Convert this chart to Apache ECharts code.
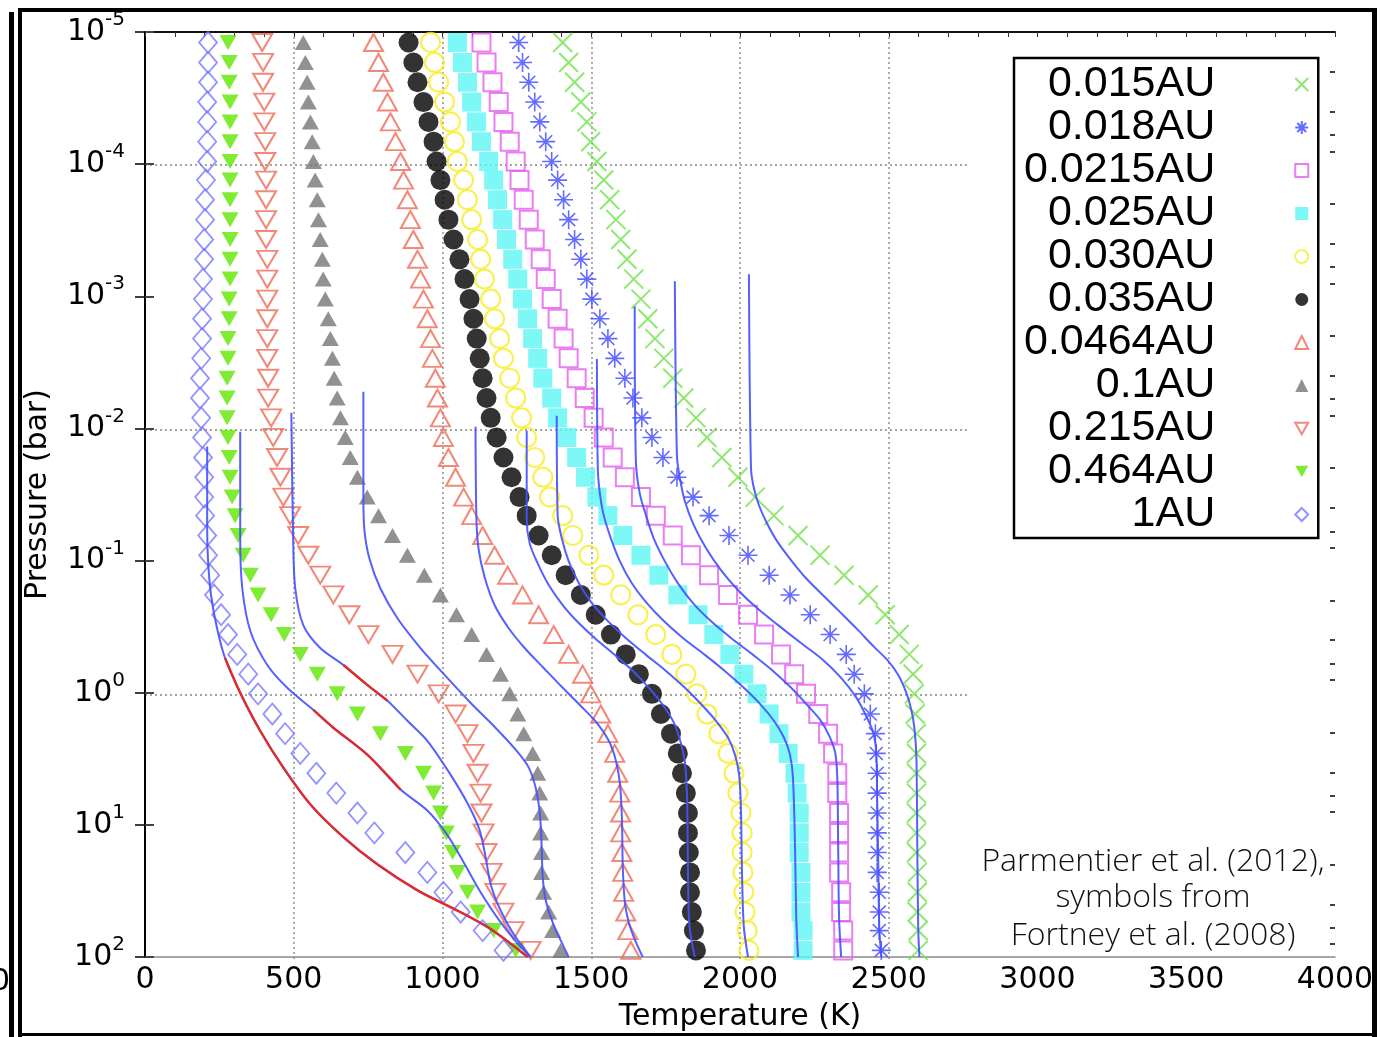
<!DOCTYPE html>
<html>
<head>
<meta charset="utf-8">
<title>Pressure–temperature profiles</title>
<script src="https://cdn.jsdelivr.net/npm/echarts@6/dist/echarts.min.js"></script>
<style>
  html, body { margin: 0; padding: 0; background: #fff; }
  #chart { width: 1380px; height: 1037px; }
</style>
</head>
<body>
<div id="chart"></div>
<script>
// ---------------------------------------------------------------
// Data: Fortney et al. (2008) model levels (symbols) and
// Parmentier et al. (2012) analytic profiles (curves).
// Temperatures in K, pressures in bar.
// ---------------------------------------------------------------

// shared pressure levels of the symbol profiles (bar)
const fortneyPressure = [1.20e-5, 1.70e-5, 2.40e-5, 3.39e-5, 4.79e-5, 6.76e-5, 9.55e-5, 1.32e-4, 1.86e-4, 2.63e-4,
  3.72e-4, 5.25e-4, 7.41e-4, 1.05e-3, 1.48e-3, 2.09e-3, 2.95e-3, 4.17e-3, 5.89e-3, 8.32e-3,
  1.17e-2, 1.66e-2, 2.34e-2, 3.31e-2, 4.57e-2, 6.46e-2, 9.12e-2, 0.129, 0.182, 0.257,
  0.363, 0.513, 0.724, 1.02, 1.45, 2.04, 2.88, 4.07, 5.75, 8.13,
  11.5, 16.2, 22.9, 32.4, 45.7, 63.1, 89.1];

const distances = ['0.015AU', '0.018AU', '0.0215AU', '0.025AU', '0.030AU', '0.035AU',
  '0.0464AU', '0.1AU', '0.215AU', '0.464AU', '1AU'];

// symbol temperatures (K) at fortneyPressure
const fortney_0015 = [1404,1424,1444,1465,1485,1498,1519,1542,1562,1583,1599,1620,1643,1667,1690,1714,1744,1774,1811,1852,1889,1939,1993,2051,2114,2195,2269,2350,2431,2488,2535,2569,2582,2586,2589,2593,2593,2593,2593,2593,2593,2593,2596,2596,2596,2599,2599];
const fortney_0018 = [1256,1269,1290,1310,1327,1347,1367,1387,1407,1424,1444,1465,1485,1502,1529,1556,1579,1613,1640,1670,1704,1741,1788,1842,1896,1963,2027,2098,2168,2236,2303,2357,2384,2418,2438,2455,2458,2461,2461,2461,2461,2461,2461,2468,2468,2468,2475];
const fortney_00215 = [1131,1148,1168,1189,1205,1226,1246,1259,1273,1290,1310,1330,1347,1367,1387,1407,1424,1451,1478,1508,1542,1572,1613,1667,1717,1774,1835,1896,1960,2027,2081,2138,2182,2222,2263,2296,2313,2327,2327,2333,2333,2333,2333,2340,2340,2347,2347];
const fortney_0025 = [1050,1067,1084,1098,1114,1131,1155,1172,1185,1202,1215,1236,1253,1269,1286,1303,1320,1337,1367,1387,1418,1451,1481,1519,1556,1606,1667,1727,1791,1859,1912,1966,2013,2057,2098,2131,2162,2185,2192,2199,2199,2199,2205,2205,2205,2212,2212];
const fortney_0030 = [960,973,987,1007,1027,1040,1050,1071,1084,1098,1118,1128,1141,1162,1175,1192,1205,1226,1246,1266,1283,1310,1337,1360,1404,1438,1492,1542,1599,1657,1717,1771,1818,1855,1889,1929,1960,1980,1993,2003,2007,2007,2010,2013,2017,2024,2030];
const fortney_0035 = [886,902,916,936,953,970,980,993,1007,1020,1037,1057,1074,1091,1104,1115,1125,1135,1148,1162,1182,1205,1232,1259,1283,1323,1367,1414,1465,1515,1566,1616,1660,1704,1734,1768,1791,1805,1818,1825,1825,1828,1832,1832,1838,1845,1852];
const fortney_00464 = [768,785,801,815,825,842,859,869,882,892,902,916,926,936,949,960,966,976,983,993,1003,1020,1044,1071,1098,1135,1175,1219,1269,1323,1374,1424,1471,1498,1532,1556,1579,1589,1596,1599,1599,1603,1606,1609,1616,1623,1633];
const fortney_01 = [532,539,545,549,556,562,566,572,579,583,589,596,599,606,616,623,630,636,646,657,673,690,714,747,785,832,882,939,993,1047,1098,1148,1195,1226,1253,1273,1303,1320,1327,1330,1330,1333,1333,1340,1357,1370,1397];
const fortney_0215 = [394,397,397,401,401,404,404,407,407,407,407,411,411,411,411,411,411,414,414,424,431,444,455,465,488,515,549,589,633,687,751,832,916,987,1044,1084,1104,1118,1128,1131,1138,1148,1165,1178,1205,1239,1296];
const fortney_0464 = [279,283,283,286,286,286,286,286,286,286,286,286,286,283,283,279,279,276,276,276,279,283,286,293,303,313,330,354,380,424,468,522,579,646,714,791,875,936,970,993,1013,1034,1050,1084,1118,1172,1246];
const fortney_1 = [212,212,212,209,209,209,209,205,202,202,199,199,195,195,192,192,189,185,185,189,192,195,199,199,202,209,212,219,232,256,279,310,347,380,428,471,522,576,643,714,771,875,949,1003,1061,1135,1205];

// analytic profiles: temperature (K) and pressure (bar) pairs
const parm_0015_T = [2030,2037,2047,2064,2091,2125,2172,2222,2279,2340,2397,2448,2495,2532,2559,2576,2586,2593,2596,2599,2603];
const parm_0015_P = [0.000681,0.0201,0.0285,0.0383,0.0524,0.0716,0.0995,0.136,0.183,0.250,0.336,0.444,0.565,0.733,1.00,1.35,1.84,3.10,14.8,59.4,100];
const parm_0018_T = [1781,1788,1798,1815,1845,1886,1936,1993,2057,2128,2205,2279,2340,2391,2424,2448,2458,2461,2465,2468,2475];
const parm_0018_P = [0.000769,0.0161,0.0239,0.0357,0.0542,0.0807,0.118,0.167,0.229,0.308,0.421,0.565,0.773,1.09,1.50,2.01,2.84,6.21,20.9,59.4,100];
const parm_00215_T = [1646,1650,1663,1684,1710,1747,1791,1842,1902,1970,2044,2111,2172,2226,2269,2300,2320,2327,2330,2333,2340];
const parm_00215_P = [0.00119,0.0178,0.031,0.0455,0.0679,0.101,0.148,0.210,0.287,0.385,0.517,0.684,0.918,1.24,1.60,2.12,2.84,4.39,14.8,49.9,100];
const parm_0025_T = [1519,1522,1529,1542,1566,1596,1636,1687,1744,1808,1882,1949,2013,2071,2114,2148,2168,2178,2185,2189,2195];
const parm_0025_P = [0.00298,0.0201,0.031,0.0455,0.0679,0.101,0.148,0.210,0.287,0.385,0.517,0.684,0.918,1.24,1.63,2.19,2.94,4.39,14.8,49.9,100];
const parm_0030_T = [1384,1387,1401,1424,1458,1502,1556,1616,1684,1751,1815,1872,1919,1960,1983,1997,2003,2007,2013,2027];
const parm_0030_P = [0.00802,0.0455,0.0679,0.101,0.148,0.210,0.287,0.385,0.517,0.684,0.918,1.24,1.63,2.19,2.94,4.17,7.40,24.9,59.4,100];
const parm_0035_T = [1283,1283,1293,1320,1357,1404,1458,1519,1579,1640,1694,1741,1778,1801,1815,1822,1825,1828,1835,1848];
const parm_0035_P = [0.0104,0.048,0.0741,0.105,0.153,0.217,0.297,0.399,0.517,0.684,0.918,1.24,1.69,2.39,3.38,6.21,20.9,49.9,70.6,100];
const parm_00464_T = [1111,1114,1121,1141,1175,1222,1276,1340,1404,1465,1519,1559,1582,1596,1603,1606,1613,1626,1643,1673];
const parm_00464_P = [0.0097,0.048,0.0807,0.132,0.217,0.324,0.459,0.650,0.918,1.26,1.69,2.31,3.21,4.79,8.79,20.9,38.5,54.5,70.6,100];
const parm_01_T = [734,734,737,754,791,848,926,1010,1094,1178,1246,1290,1313,1327,1333,1337,1347,1370,1397,1424];
const parm_01_P = [0.00528,0.0322,0.0571,0.0962,0.162,0.272,0.459,0.746,1.19,1.84,2.70,3.69,5.22,8.05,14.1,24.9,37.2,54.5,74.5,100];
const parm_0215_T = [492,498,505,532,589,667,747,815,882,949,1027,1088,1125,1145,1162,1195,1239,1296];
const parm_0215_P = [0.00762,0.0679,0.162,0.308,0.459,0.617,0.873,1.15,1.63,2.31,4.17,7.14,11.0,17.6,28.1,44.3,67.1,100];
const parm_0464_T = [320,320,327,354,411,478,566,633,747,859,949,1017,1071,1128,1195,1263,1296];
const parm_0464_P = [0.0106,0.0679,0.162,0.341,0.617,0.918,1.35,1.84,2.94,5.41,7.78,12.0,19.2,32.4,54.5,84.1,100];
const parm_1_T = [209,209,212,222,242,269,320,387,465,556,667,781,916,1061,1162,1286];
const parm_1_P = [0.0137,0.0571,0.101,0.183,0.324,0.546,1.00,1.94,3.69,7.01,12.4,19.9,31.3,45.8,61.5,100];

// pressure ranges (bar) drawn in red on the three coolest curves
const redRange_0215 = [0.617, 1.15];
const redRange_0464 = [1.35, 5.41];
const redRange_1 = [0.546, 100];

// axis ticks
const tempTicks = [0, 500, 1000, 1500, 2000, 2500, 3000, 3500, 4000];
const pressureMinorTicks = [2e-5, 4e-5, 6e-5, 8e-5, 2e-4, 4e-4, 6e-4, 8e-4, 2e-3, 4e-3, 6e-3, 8e-3,
  2e-2, 4e-2, 6e-2, 8e-2, 0.2, 0.4, 0.6, 0.8, 2, 4, 6, 8, 20, 40, 60, 80];

// ---------------------------------------------------------------
// Styles
// ---------------------------------------------------------------
const BLUE = 'rgba(70, 82, 255, 0.92)';
const RED = '#e02b2b';
const NONE = 'rgba(0,0,0,0)';
const X_PATH = 'path://M0,0L10,10M0,10L10,0';
const STAR_PATH = 'path://M5,0L5,10M0,5L10,5M1.6,1.6L8.4,8.4M1.6,8.4L8.4,1.6';
const DOWN_TRI = 'path://M0,0L10,0L5,8.66Z';

const symbolProfiles = [
  { name: distances[0],  temps: fortney_0015,  symbol: X_PATH,     size: 19,       fill: NONE,      stroke: '#72e24c', bw: 2 },
  { name: distances[1],  temps: fortney_0018,  symbol: STAR_PATH,  size: 19,       fill: NONE,      stroke: '#3d46ff', bw: 1.6 },
  { name: distances[2],  temps: fortney_00215, symbol: 'rect',     size: 18,       fill: NONE,      stroke: '#e35cf0', bw: 2 },
  { name: distances[3],  temps: fortney_0025,  symbol: 'rect',     size: 19,       fill: '#5ef5f5', stroke: NONE,      bw: 0 },
  { name: distances[4],  temps: fortney_0030,  symbol: 'circle',   size: 19,       fill: NONE,      stroke: '#f8ec28', bw: 2.2 },
  { name: distances[5],  temps: fortney_0035,  symbol: 'circle',   size: 20,       fill: '#000',    stroke: NONE,      bw: 0 },
  { name: distances[6],  temps: fortney_00464, symbol: 'triangle', size: [19, 17], fill: NONE,      stroke: '#ee6a56', bw: 2 },
  { name: distances[7],  temps: fortney_01,    symbol: 'triangle', size: [17, 15], fill: '#767676', stroke: NONE,      bw: 0 },
  { name: distances[8],  temps: fortney_0215,  symbol: 'triangle', size: [20, 17], fill: NONE,      stroke: '#ee6a56', bw: 2, rotate: 180 },
  { name: distances[9],  temps: fortney_0464,  symbol: 'triangle', size: [17, 15], fill: '#5fe600', stroke: NONE,      bw: 0, rotate: 180 },
  { name: distances[10], temps: fortney_1,     symbol: 'diamond',  size: [18, 21], fill: NONE,      stroke: '#7878ff', bw: 1.8 }
];

const curveProfiles = [
  { id: '0.015AU',  T: parm_0015_T,  P: parm_0015_P },
  { id: '0.018AU',  T: parm_0018_T,  P: parm_0018_P },
  { id: '0.0215AU', T: parm_00215_T, P: parm_00215_P },
  { id: '0.025AU',  T: parm_0025_T,  P: parm_0025_P },
  { id: '0.030AU',  T: parm_0030_T,  P: parm_0030_P },
  { id: '0.035AU',  T: parm_0035_T,  P: parm_0035_P },
  { id: '0.0464AU', T: parm_00464_T, P: parm_00464_P },
  { id: '0.1AU',    T: parm_01_T,    P: parm_01_P },
  { id: '0.215AU',  T: parm_0215_T,  P: parm_0215_P, red: redRange_0215 },
  { id: '0.464AU',  T: parm_0464_T,  P: parm_0464_P, red: redRange_0464 },
  { id: '1AU',      T: parm_1_T,     P: parm_1_P,    red: redRange_1 }
];

// ---------------------------------------------------------------
// Series
// ---------------------------------------------------------------
const series = [];
symbolProfiles.forEach(function (p) {
  series.push({
    type: 'scatter',
    name: p.name,
    xAxisIndex: 0,
    yAxisIndex: 0,
    data: p.temps.map(function (t, i) { return [t, fortneyPressure[i]]; }),
    symbol: p.symbol,
    symbolSize: p.size,
    symbolRotate: p.rotate || 0,
    itemStyle: { color: p.fill, borderColor: p.stroke, borderWidth: p.bw },
    z: 2,
    silent: true
  });
});

function curveSeries(name, points, color, width, z) {
  return {
    type: 'line',
    name: name,
    xAxisIndex: 0,
    yAxisIndex: 0,
    data: points,
    showSymbol: false,
    smooth: 0.3,
    lineStyle: { color: color, width: width },
    z: z,
    silent: true
  };
}

curveProfiles.forEach(function (c) {
  const pts = c.T.map(function (t, i) { return [t, c.P[i]]; });
  series.push(curveSeries('Parmentier ' + c.id, pts, BLUE, 2, 3));
  if (c.red) {
    // portion of the same profile highlighted in red
    const redPts = pts.filter(function (d) { return d[1] >= c.red[0] && d[1] <= c.red[1]; });
    series.push(curveSeries('Parmentier ' + c.id + ' (red)', redPts, RED, 2.4, 4));
  }
});

// ---------------------------------------------------------------
// Option
// ---------------------------------------------------------------
const AXIS_FONT = 'DejaVu Sans';
const TRANSPARENT = 'rgba(0,0,0,0)';
const GRID_GRAY = '#a3a3a3';

const legendData = distances.map(function (d) {
  if (d === '0.215AU' || d === '0.464AU') return { name: d, icon: DOWN_TRI, symbolRotate: 0 };
  return { name: d };
});

const annotationStyle = {
  align: 'center', verticalAlign: 'middle', textAlign: 'center', textVerticalAlign: 'middle',
  fontFamily: 'Open Sans', fontWeight: 300, fontSize: 32, fill: '#111'
};

const option = {
  animation: false,
  backgroundColor: '#fff',
  grid: [
    { left: 145, top: 32, width: 1190, height: 928 },   // full frame
    { left: 145, top: 32, width: 823, height: 928 }     // dotted grid region
  ],
  xAxis: [
    {
      gridIndex: 0, type: 'value', position: 'bottom',
      min: tempTicks[0], max: tempTicks[tempTicks.length - 1], interval: 500,
      axisLine: { lineStyle: { color: '#8a8a8a', width: 1.5 } },
      axisTick: { show: false },
      axisLabel: { fontFamily: AXIS_FONT, fontSize: 30, color: '#000', margin: 8,
        formatter: function (v) { return String(v); } },
      splitLine: { show: false },
      name: 'Temperature (K)', nameLocation: 'middle', nameGap: 45,
      nameTextStyle: { fontFamily: AXIS_FONT, fontSize: 30, color: '#000' }
    },
    {
      gridIndex: 0, type: 'value', position: 'top',
      min: tempTicks[0], max: tempTicks[tempTicks.length - 1], interval: 500,
      axisLine: { lineStyle: { color: '#111', width: 2 } },
      axisTick: { show: true, inside: true, length: 5, lineStyle: { color: '#333', width: 1 } },
      minorTick: { show: true, splitNumber: 5, length: 5, lineStyle: { color: '#333', width: 1 } },
      axisLabel: { show: false },
      splitLine: { show: false }
    },
    {
      gridIndex: 1, type: 'value',
      min: 0, max: 2766, interval: 500,
      axisLine: { show: false }, axisTick: { show: false }, axisLabel: { show: false },
      splitLine: {
        show: true,
        lineStyle: {
          color: [TRANSPARENT, GRID_GRAY, GRID_GRAY, GRID_GRAY, GRID_GRAY, GRID_GRAY, TRANSPARENT],
          type: [2, 3], width: 1.8
        }
      }
    }
  ],
  yAxis: [
    {
      gridIndex: 0, type: 'log', logBase: 10, inverse: true, position: 'left',
      min: 1e-5, max: 100, splitNumber: 7,
      axisLine: { show: true, lineStyle: { color: '#8a8a8a', width: 1.5 } },
      axisTick: { show: true, inside: true, length: 9, lineStyle: { color: '#444', width: 2 } },
      axisLabel: {
        margin: 20,
        formatter: function (v) {
          return '{b|10}{s|' + Math.round(Math.log10(v)) + '}';
        },
        rich: {
          b: { fontFamily: AXIS_FONT, fontSize: 30, color: '#000', lineHeight: 44 },
          s: { fontFamily: AXIS_FONT, fontSize: 20, color: '#000', lineHeight: 20, verticalAlign: 'top' }
        }
      },
      splitLine: { show: false },
      name: 'Pressure (bar)', nameLocation: 'middle', nameGap: 92, nameRotate: 90,
      nameTextStyle: { fontFamily: AXIS_FONT, fontSize: 30, color: '#000' }
    },
    {
      gridIndex: 0, type: 'log', logBase: 10, inverse: true, position: 'right',
      min: 1e-5, max: 100, splitNumber: 7,
      axisLine: { show: true, lineStyle: { color: '#000', width: 2 } },
      axisTick: { show: true, inside: true, length: 10, lineStyle: { color: '#000', width: 1.5 } },
      axisLabel: { show: false },
      splitLine: { show: false }
    },
    {
      gridIndex: 0, type: 'log', logBase: 10, inverse: true, position: 'right',
      min: 1e-5, max: 100, splitNumber: 7,
      axisLine: { show: false },
      axisTick: { show: true, inside: true, length: 5, customValues: pressureMinorTicks,
        lineStyle: { color: '#000', width: 1.5 } },
      axisLabel: { show: false },
      splitLine: { show: false }
    },
    {
      gridIndex: 1, type: 'log', logBase: 10, inverse: true,
      min: 1e-5, max: 100, splitNumber: 7,
      axisLine: { show: false }, axisTick: { show: false }, axisLabel: { show: false },
      splitLine: {
        show: true,
        lineStyle: {
          color: [TRANSPARENT, GRID_GRAY, TRANSPARENT, GRID_GRAY, TRANSPARENT, GRID_GRAY, TRANSPARENT, TRANSPARENT],
          type: [2, 3], width: 1.8
        }
      }
    }
  ],
  legend: {
    data: legendData,
    orient: 'vertical',
    align: 'right',
    left: 1014,
    top: 58,
    itemWidth: 13,
    itemHeight: 13,
    itemGap: 0,
    padding: [5, 9, 2, 10],
    borderColor: '#000',
    borderWidth: 2.5,
    backgroundColor: '#fff',
    selectedMode: false,
    textStyle: {
      fontFamily: 'Liberation Sans', fontSize: 43, color: '#000', lineHeight: 43,
      padding: [0, 75, 0, 0]
    }
  },
  graphic: [
    // annotation
    { type: 'text', z: 10, style: Object.assign({ text: 'Parmentier et al. (2012),', x: 1153, y: 862 }, annotationStyle) },
    { type: 'text', z: 10, style: Object.assign({ text: 'symbols from', x: 1153, y: 898 }, annotationStyle) },
    { type: 'text', z: 10, style: Object.assign({ text: 'Fortney et al. (2008)', x: 1153, y: 936 }, annotationStyle) },
    // clipped tick label at the far left edge
    { type: 'text', z: 10,
      style: { text: '0', x: 10, y: 982, align: 'right', verticalAlign: 'middle',
        textAlign: 'right', textVerticalAlign: 'middle', fontFamily: AXIS_FONT, fontSize: 30, fill: '#000' } },
    // outer frame
    { type: 'rect', z: 20, shape: { x: 18, y: 8, width: 1359, height: 4 }, style: { fill: '#000' } },
    { type: 'rect', z: 20, shape: { x: 9, y: 12, width: 5, height: 1030 }, style: { fill: '#000' } },
    { type: 'rect', z: 20, shape: { x: 18, y: 8, width: 4, height: 1034 }, style: { fill: '#000' } },
    { type: 'rect', z: 20, shape: { x: 1372, y: 8, width: 5, height: 1034 }, style: { fill: '#000' } },
    { type: 'rect', z: 20, shape: { x: 18, y: 1033, width: 1359, height: 3 }, style: { fill: '#000' } }
  ],
  series: series
};

const chart = echarts.init(document.getElementById('chart'), null, { renderer: 'canvas' });
chart.setOption(option);
</script>
</body>
</html>
